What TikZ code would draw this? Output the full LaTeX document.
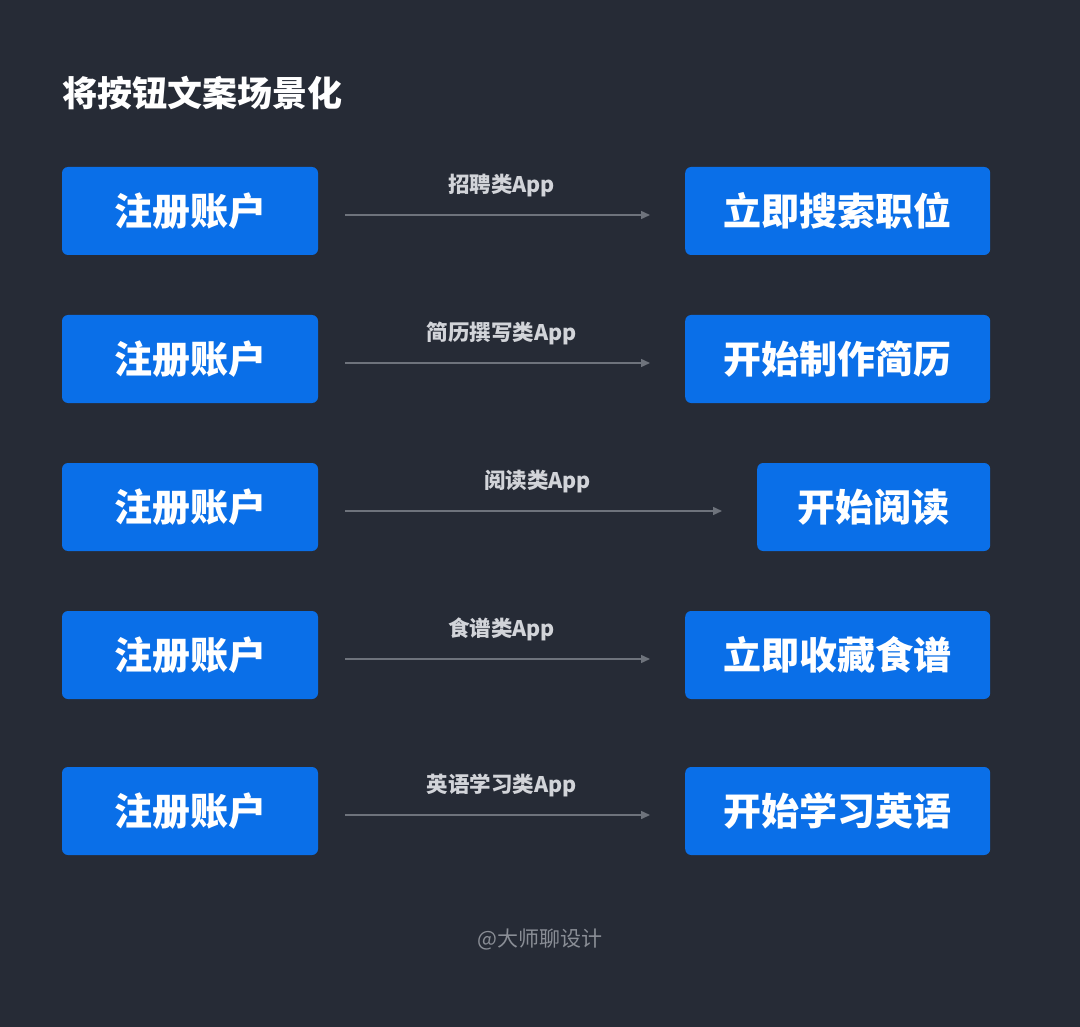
\documentclass[tikz,border=0pt]{standalone}
\usepackage{fontspec}
\setmainfont{Noto Sans CJK SC}
\usetikzlibrary{arrows.meta}
\definecolor{bgdark}{HTML}{262B36}
\definecolor{btnblue}{HTML}{0A6FE8}
\definecolor{linegray}{HTML}{6E737C}
\definecolor{labelgray}{HTML}{D2D4D9}
\definecolor{footgray}{HTML}{8A8E96}
\tikzset{
  btn/.style={fill=btnblue, rounded corners=6pt, text=white, font=\fontsize{38}{38}\selectfont\bfseries,
    minimum height=88pt, inner sep=0pt},
  link/.style={draw=linegray, line width=1.5pt, -{Triangle[length=9pt,width=8pt]}},
  applabel/.style={text=labelgray, font=\fontsize{21.5}{21.5}\selectfont\bfseries}
}
\begin{document}
\begin{tikzpicture}[x=1pt,y=-1pt]
  % background
  \fill [bgdark] (0,0) rectangle (1080,1027);
  \useasboundingbox (0,0) rectangle (1080,1027);

  % title
  \node [anchor=west, inner sep=0pt, text=white, font=\fontsize{35}{35}\selectfont\bfseries] (title) at (62,93) {将按钮文案场景化};

  % rows: y, right label, right box left, right box width, app label
  \foreach \i/\y/\rtext/\rx/\rw/\app in {
      1/211/立即搜索职位/685/305/招聘类App,
      2/359/开始制作简历/685/305/简历撰写类App,
      3/507/开始阅读/757/233/阅读类App,
      4/655/立即收藏食谱/685/305/食谱类App,
      5/811/开始学习英语/685/305/英语学习类App} {
    \node [btn, minimum width=256pt] (l\i) at (190,\y) {注册账户};
    \node [btn, minimum width=\rw pt, anchor=west] (r\i) at (\rx,\y) {\rtext};
    \draw [link, shorten <=27pt, shorten >=35pt] ([yshift=-4pt]l\i.east) -- ([yshift=-4pt]r\i.west)
      node [applabel, midway, above=14pt] (a\i) {\app};
  }

  % footer
  \node [text=footgray, font=\fontsize{21}{21}\selectfont] (foot) at (540,940) {@大师聊设计};
\end{tikzpicture}
\end{document}
